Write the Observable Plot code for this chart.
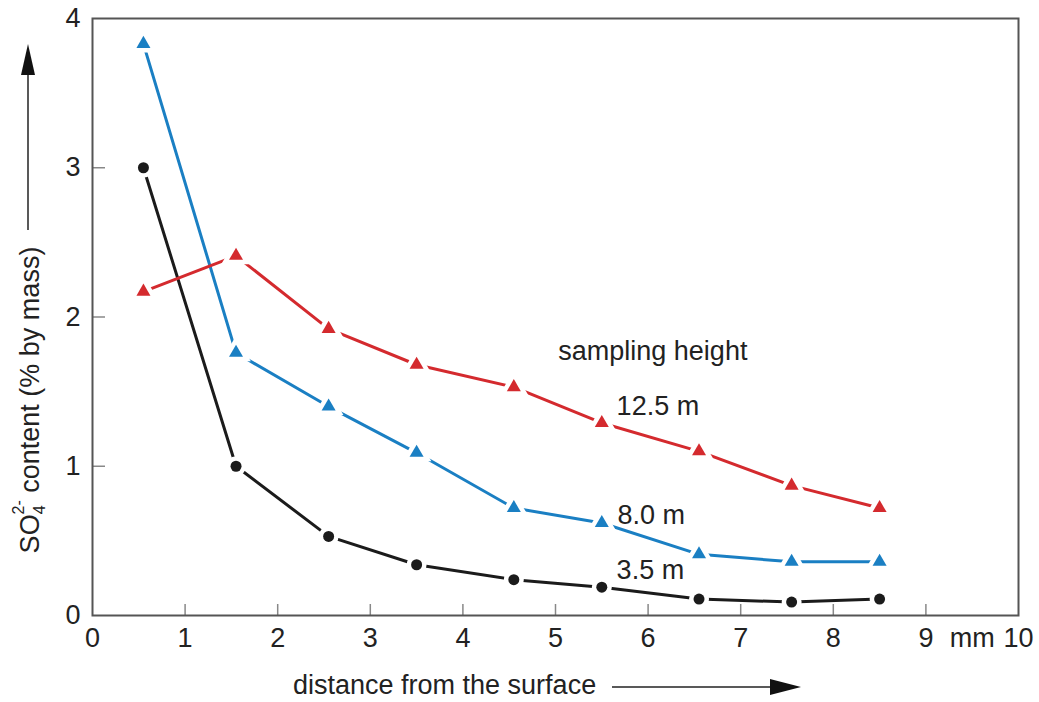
<!DOCTYPE html>
<html><head><meta charset="utf-8">
<script src="https://cdn.jsdelivr.net/npm/d3@7"></script>
<script src="https://cdn.jsdelivr.net/npm/@observablehq/plot@0.6"></script>
<style>body{margin:0;background:#fff} svg{display:block}</style>
</head><body><div id="chart"></div>
<script>
const distance = [0.55, 1.55, 2.55, 3.5, 4.55, 5.5, 6.55, 7.55, 8.5];
const h35  = [3.00, 1.00, 0.53, 0.34, 0.24, 0.19, 0.11, 0.09, 0.11];
const h80  = [3.83, 1.76, 1.40, 1.09, 0.72, 0.62, 0.41, 0.36, 0.36];
const h125 = [2.17, 2.41, 1.92, 1.68, 1.53, 1.29, 1.10, 0.87, 0.72];
const seriesNames = ["3.5 m", "8.0 m", "12.5 m"];
const seriesColors = ["#1b1b1b", "#1a7fc3", "#d42a2e"];
const seriesSymbols = ["circle", "triangle", "triangle"];
const seriesRadius = [5.5, 5.2, 5.2];
const labelX = [5.66, 5.67, 5.66];
const labelY = [0.30, 0.67, 1.40];
const legendTitle = "sampling height";
const legendTitlePos = [5.03, 1.77];
const xTicks = [0, 1, 2, 3, 4, 5, 6, 7, 8, 9, 10];
const xInnerTicks = [1, 2, 3, 4, 5, 6, 7, 8, 9];
const yTicks = [0, 1, 2, 3, 4];
const yInnerTicks = [1, 2, 3];
const unitLabel = "mm";
const unitPos = 9.5;
const xTitle = "distance from the surface";

const seriesValues = [h35, h80, h125];
const rows = [];
seriesNames.forEach((s, i) => distance.forEach((d, j) => rows.push({series: s, x: d, y: seriesValues[i][j], r: seriesRadius[i]})));
const labels = seriesNames.map((s, i) => ({series: s, x: labelX[i], y: labelY[i]}));

const FONT = "'Liberation Sans', Arial, Helvetica, sans-serif";
const FS = 27;

const plot = Plot.plot({
  width: 1039, height: 702,
  marginLeft: 92, marginRight: 21, marginTop: 18, marginBottom: 87,
  style: {fontFamily: FONT, fontSize: FS + "px", color: "#222", background: "#fff"},
  x: {domain: [0, 10]},
  y: {domain: [0, 4]},
  r: {type: "identity"},
  color: {domain: seriesNames, range: seriesColors},
  symbol: {domain: seriesNames, range: seriesSymbols},
  marks: [
    Plot.axisX({anchor: "top", frameAnchor: "bottom", ticks: xInnerTicks, tickSize: 12, fill: "none", stroke: "#888", strokeWidth: 1.5}),
    Plot.axisY({anchor: "right", frameAnchor: "left", ticks: yInnerTicks, tickSize: 12, fill: "none", stroke: "#888", strokeWidth: 1.5}),
    Plot.axisX({ticks: xTicks, tickSize: 0, tickPadding: 12, tickFormat: d => String(d), fontSize: FS, label: null, fill: "#222"}),
    Plot.axisY({ticks: yTicks, tickSize: 0, tickPadding: 12, tickFormat: d => String(d), fontSize: FS, label: null, fill: "#222"}),
    Plot.frame({stroke: "#555", strokeWidth: 2}),
    Plot.line(rows, {x: "x", y: "y", z: "series", stroke: "series", strokeWidth: 3}),
    Plot.dot(rows, {x: "x", y: "y", symbol: "series", fill: "series", r: "r", stroke: "white", strokeWidth: 9, paintOrder: "stroke"}),
    Plot.text(labels, {x: "x", y: "y", text: "series", textAnchor: "start", fontSize: FS, fill: "#222"}),
    Plot.text([legendTitle], {x: legendTitlePos[0], y: legendTitlePos[1], text: d => d, textAnchor: "start", fontSize: FS, fill: "#222"}),
    Plot.text([unitLabel], {x: unitPos, frameAnchor: "bottom", dy: 31, text: d => d, fontSize: FS, fill: "#222"})
  ]
});
document.getElementById("chart").appendChild(plot);

// axis titles with arrows
const svg = d3.select(plot);
const g = svg.append("g").attr("fill", "#222").attr("font-family", FONT).attr("text-anchor", "start");
// x title
g.append("text").attr("x", 293).attr("y", 694).attr("font-size", FS).attr("text-anchor", "start").text(xTitle);
g.append("line").attr("x1", 612).attr("x2", 775).attr("y1", 687).attr("y2", 687).attr("stroke", "#222").attr("stroke-width", 1.5);
g.append("path").attr("d", "M770,679L801,687L770,695Z").attr("fill", "#111");
// y title
const yt = g.append("text").attr("transform", "translate(39,400) rotate(-90)").attr("text-anchor", "middle").attr("font-size", FS);
yt.append("tspan").text("SO");
yt.append("tspan").attr("font-size", 16).attr("dy", 6).text("4");
yt.append("tspan").attr("font-size", 16).attr("dx", -9).attr("dy", -21).text("2-");
yt.append("tspan").attr("dy", 15).text(" content (% by mass)");
g.append("line").attr("x1", 28).attr("x2", 28).attr("y1", 230).attr("y2", 70).attr("stroke", "#222").attr("stroke-width", 1.5);
g.append("path").attr("d", "M21,75L28,44L35,75Z").attr("fill", "#111");
</script>
</body></html>
